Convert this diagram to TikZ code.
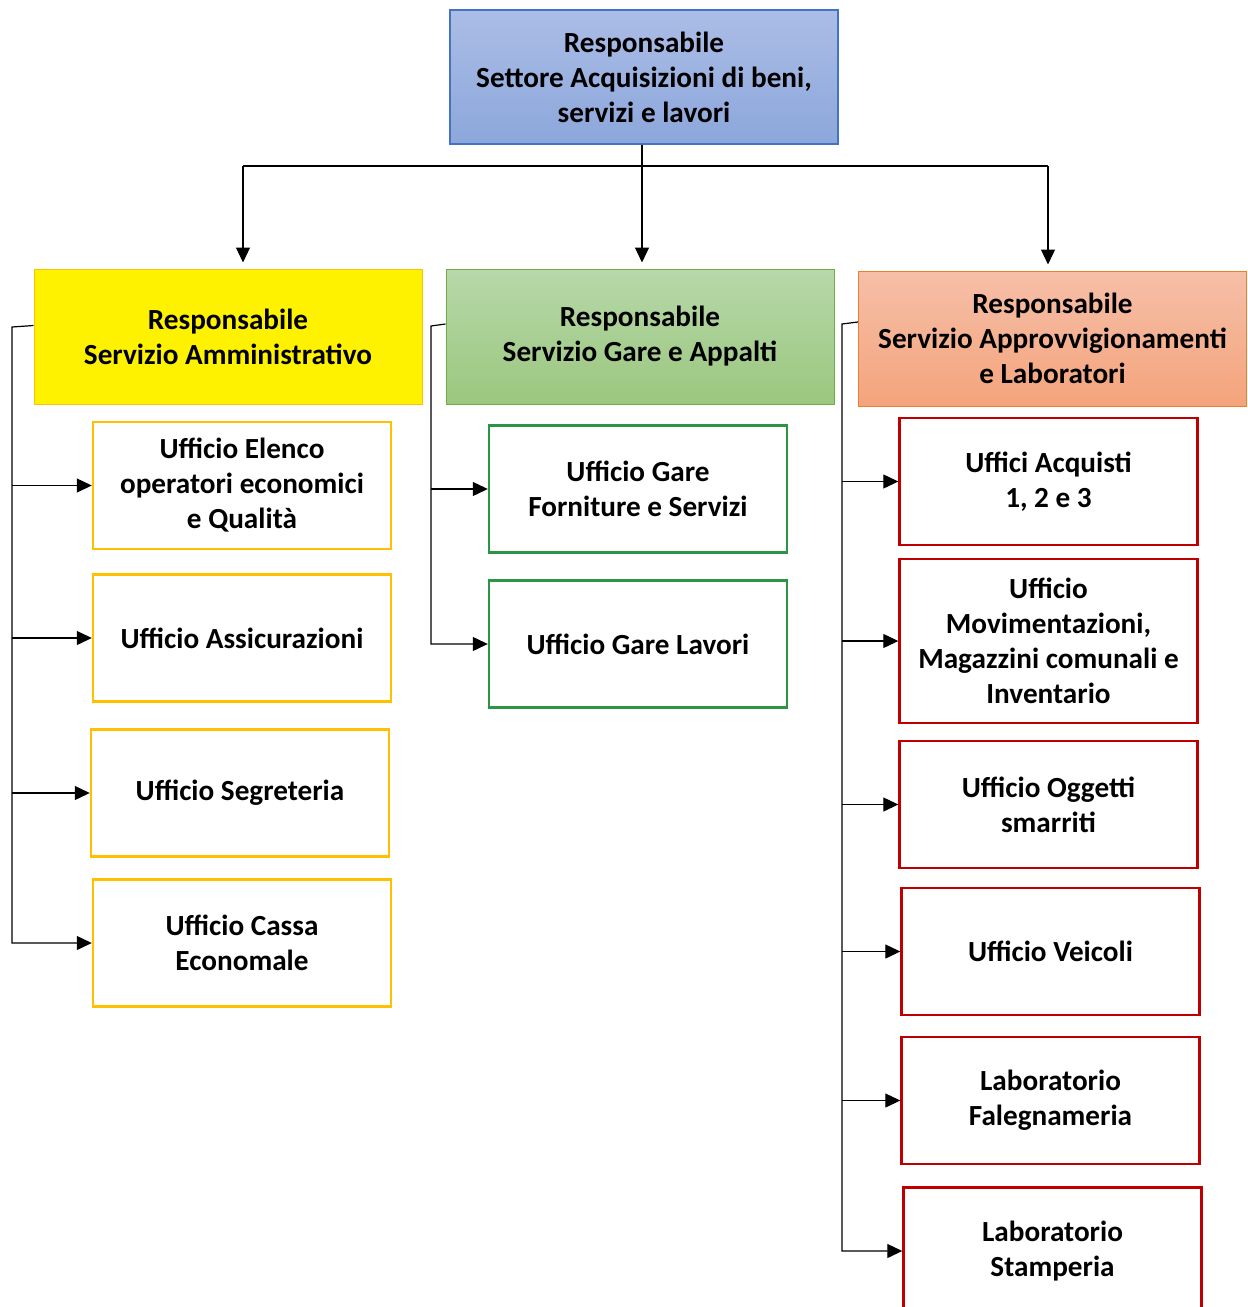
\documentclass[tikz,border=0pt]{standalone}
\usepackage{fontspec}
\setmainfont{Carlito}
\usetikzlibrary{arrows.meta}
\definecolor{topfill1}{HTML}{ABBDE6}
\definecolor{topfill2}{HTML}{8CA7DB}
\definecolor{topline}{HTML}{4472C4}
\definecolor{gialloline}{HTML}{FFC000}
\definecolor{verde1}{HTML}{B7D8A9}
\definecolor{verde2}{HTML}{9BC77F}
\definecolor{verdeline}{HTML}{70AD47}
\definecolor{verdesub}{HTML}{2E9445}
\definecolor{aranc1}{HTML}{F6BFA8}
\definecolor{aranc2}{HTML}{F4A47C}
\definecolor{arancline}{HTML}{ED7D31}
\definecolor{rossoline}{HTML}{C00000}

\begin{document}
\begin{tikzpicture}[x=0.5pt,y=-0.5pt,
        every node/.style={font=\bfseries\fontsize{14.6}{17.5}\selectfont, align=center, inner sep=0pt},
        settorenode/.style={rectangle, draw=topline, line width=0.6pt, top color=topfill1, bottom color=topfill2, minimum width=194pt, minimum height=67pt},
        ammnode/.style={rectangle, draw=gialloline, line width=0.5pt, fill=yellow, minimum width=194pt, minimum height=67.5pt},
        garenode/.style={rectangle, draw=verdeline, line width=0.5pt, top color=verde1, bottom color=verde2, minimum width=194pt, minimum height=67.5pt},
        approvnode/.style={rectangle, draw=arancline, line width=0.5pt, top color=aranc1, bottom color=aranc2, minimum width=194pt, minimum height=67.5pt},
        ammsub/.style={rectangle, draw=gialloline, line width=1.2pt, fill=white, minimum width=149pt, minimum height=63.5pt},
        garesub/.style={rectangle, draw=verdesub, line width=1.2pt, fill=white, minimum width=149pt, minimum height=63.5pt},
        approvsub/.style={rectangle, draw=rossoline, line width=1.2pt, fill=white, minimum width=149pt, minimum height=63.5pt},
        conn/.style={line width=0.6pt},
        arrow/.style={conn, -{Triangle[length=7.5pt,width=7pt]}},
        ]
        \clip (0,0) rectangle (1248,1307);
        %Nodes
        \node[settorenode] (settore) at (644,77) {Responsabile\\Settore Acquisizioni di beni,\\servizi e lavori};

        \node[ammnode] (amm) at (228,336.5) {Responsabile\\Servizio Amministrativo};
        \node[garenode] (gare) at (640,336.5) {Responsabile\\Servizio Gare e Appalti};
        \node[approvnode] (approv) at (1052.5,338.5) {Responsabile\\Servizio Approvvigionamenti\\e Laboratori};

        \node[ammsub] (elenco) at (242,485.5) {Ufficio Elenco\\operatori economici\\e Qualità};
        \node[ammsub] (assic) at (242,638) {Ufficio Assicurazioni};
        \node[ammsub] (segret) at (240,793) {Ufficio Segreteria};
        \node[ammsub] (cassa) at (242,943) {Ufficio Cassa\\Economale};

        \node[garesub] (forniture) at (638,489) {Ufficio Gare\\Forniture e Servizi};
        \node[garesub] (lavori) at (638,644) {Ufficio Gare Lavori};

        \node[approvsub] (acquisti) at (1048.5,481.5) {Uffici Acquisti\\1, 2 e 3};
        \node[approvsub, minimum height=82pt] (moviment) at (1048.5,641) {Ufficio\\Movimentazioni,\\Magazzini comunali e\\Inventario};
        \node[approvsub] (oggetti) at (1048.5,804.5) {Ufficio Oggetti\\smarriti};
        \node[approvsub] (veicoli) at (1050.5,951.5) {Ufficio Veicoli};
        \node[approvsub] (falegn) at (1050.5,1100.5) {Laboratorio\\Falegnameria};
        \node[approvsub] (stamp) at (1052.5,1251) {Laboratorio\\Stamperia};

        %Connectors
        \coordinate (hubl) at (243,166);
        \coordinate (hubr) at (1048,166);
        \draw[conn] (hubl) -- (hubr);
        \draw[arrow, shorten >=3pt] ([xshift=-1pt]settore.south) -- ([xshift=-1pt]settore.south |- gare.north);
        \draw[arrow, shorten >=3pt] (hubl) -- (hubl |- amm.north);
        \draw[arrow, shorten >=3pt] (hubr) -- (hubr |- approv.north);

        \coordinate (ammbus) at (12,327);
        \draw[arrow] ([yshift=5.5pt]amm.west) -- (ammbus) |- (cassa.west);
        \foreach \n in {elenco,assic,segret}
            \draw[arrow] (ammbus |- \n.west) -- (\n.west);

        \coordinate (garebus) at (431,326);
        \draw[arrow] ([yshift=6.25pt]gare.west) -- (garebus) |- (lavori.west);
        \draw[arrow] (garebus |- forniture.west) -- (forniture.west);

        \coordinate (approvbus) at (842,324);
        \draw[arrow] ([yshift=8.25pt]approv.west) -- (approvbus) |- (stamp.west);
        \foreach \n in {acquisti,moviment,oggetti,veicoli,falegn}
            \draw[arrow] (approvbus |- \n.west) -- (\n.west);
    \end{tikzpicture}
\end{document}
